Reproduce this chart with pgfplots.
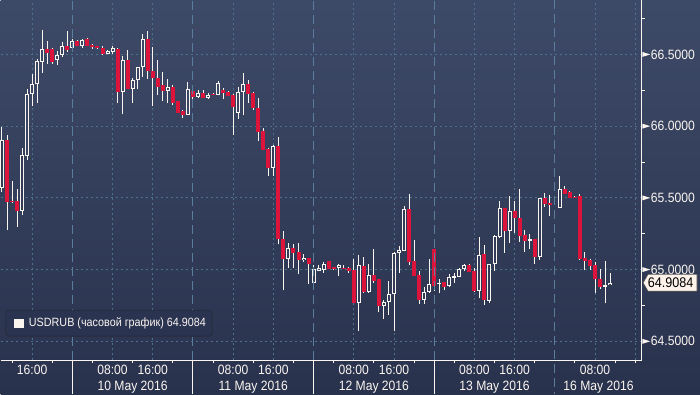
\documentclass[border=0pt]{standalone}
\usepackage{pgfplots}
\pgfplotsset{compat=1.18}
\usepackage{fontspec}
\setmainfont{Liberation Sans}[FakeStretch=0.9]
\definecolor{bgtop}{HTML}{3D4A67}
\definecolor{bgbot}{HTML}{29324D}
\definecolor{candlered}{HTML}{DC143C}
\definecolor{candlewhite}{HTML}{FBF5F0}
\definecolor{gridc}{HTML}{4F6F8F}
\definecolor{dayc}{HTML}{5A7D9E}
\definecolor{innertop}{HTML}{3A4764}
\definecolor{innerbot}{HTML}{323C58}
\definecolor{tagfill}{HTML}{FDF3EA}
\definecolor{legfill}{HTML}{2A3350}

\newcommand{\lblfont}{\fontsize{13.5}{16}\selectfont}
\pgfplotsset{seg/.style={mark=none, unbounded coords=jump, forget plot}}

\begin{document}
\begin{tikzpicture}
\shade[top color=bgtop, bottom color=bgbot] (0,0) rectangle (700pt,394pt);
\begin{axis}[
  at={(0pt,34pt)}, anchor=south west,
  scale only axis, width=641.7pt, height=360pt,
  xmin=9.75, xmax=137.3, ymin=64.369, ymax=66.876,
  clip=false,
  axis x line*=bottom, axis y line*=right,
  axis line style={candlewhite, line width=1pt},
  tick align=outside,
  major tick length=3pt, minor tick length=3pt,
  major tick style={draw=none},
  minor tick style={candlewhite, line width=1pt},
  xtick={16,32,40,56,64,80,88,104,112,128,136},
  xticklabels={16:00,08:00,16:00,08:00,16:00,08:00,16:00,08:00,16:00,08:00,},
  minor xtick={12,20,28,36,44,52,60,68,76,84,92,100,108,116,124,132,136},
  ytick={64.5,65,65.5,66,66.5},
  minor ytick={64.75,65.25,65.75,66.25,66.75},
  xmajorgrids, ymajorgrids,
  major grid style={gridc, dash pattern=on 2pt off 3pt, line width=1pt},
  xticklabel style={font=\lblfont, text=candlewhite, anchor=north, inner sep=0pt, yshift=-2pt},
  yticklabel style={font=\lblfont, text=candlewhite, anchor=west, inner sep=0pt, xshift=6pt,
    /pgf/number format/fixed, /pgf/number format/fixed zerofill,
    /pgf/number format/precision=4, /pgf/number format/assume math mode=true},
]
% wicks (low, high) for each hourly candle
\addplot[seg, candlewhite, line width=1pt] coordinates {
(10,65.541)(10,65.994)(10,nan) (11,65.274)(11,65.936)(11,nan) (12,65.462)(12,65.616)(12,nan)
(13,65.297)(13,65.565)(13,nan) (14,65.379)(14,65.850)(14,nan) (15,65.762)(15,66.261)(15,nan)
(16,66.140)(16,66.366)(16,nan) (17,66.161)(17,66.470)(17,nan) (18,66.370)(18,66.667)(18,nan)
(19,66.435)(19,66.593)(19,nan) (20,66.435)(20,66.547)(20,nan) (21,66.423)(21,66.521)(21,nan)
(22,66.481)(22,66.586)(22,nan) (23,66.516)(23,66.660)(23,nan) (24,66.535)(24,66.609)(24,nan)
(25,66.556)(25,66.604)(25,nan) (26,66.544)(26,66.609)(26,nan) (27,66.556)(27,66.614)(27,nan)
(28,66.540)(28,66.575)(28,nan) (29,66.535)(29,66.558)(29,nan) (30,66.498)(30,66.556)(30,nan)
(31,66.500)(31,66.533)(31,nan) (32,66.500)(32,66.558)(32,nan) (33,66.161)(33,66.547)(33,nan)
(34,66.082)(34,66.486)(34,nan) (35,66.256)(35,66.528)(35,nan) (36,66.161)(36,66.338)(36,nan)
(37,66.256)(37,66.412)(37,nan) (38,66.342)(38,66.644)(38,nan) (39,66.331)(39,66.660)(39,nan)
(40,66.140)(40,66.551)(40,nan) (41,66.214)(41,66.458)(41,nan) (42,66.175)(42,66.377)(42,nan)
(43,66.161)(43,66.331)(43,nan) (44,66.145)(44,66.284)(44,nan) (45,66.094)(45,66.173)(45,nan)
(46,66.056)(46,66.110)(46,nan) (47,66.080)(47,66.307)(47,nan) (48,66.145)(48,66.249)(48,nan)
(49,66.196)(49,66.249)(49,nan) (50,66.196)(50,66.249)(50,nan) (51,66.191)(51,66.233)(51,nan)
(52,66.214)(52,66.230)(52,nan) (53,66.214)(53,66.312)(53,nan) (54,66.191)(54,66.265)(54,nan)
(55,66.208)(55,66.244)(55,nan) (56,65.936)(56,66.226)(56,nan) (57,66.052)(57,66.272)(57,nan)
(58,66.075)(58,66.373)(58,nan) (59,66.161)(59,66.319)(59,nan) (60,66.115)(60,66.237)(60,nan)
(61,65.896)(61,66.196)(61,nan) (62,65.836)(62,65.987)(62,nan) (63,65.653)(63,65.850)(63,nan)
(64,65.653)(64,65.866)(64,nan) (65,65.175)(65,65.924)(65,nan) (66,64.857)(66,65.269)(66,nan)
(67,65.010)(67,65.182)(67,nan) (68,65.008)(68,65.177)(68,nan) (69,64.968)(69,65.186)(69,nan)
(70,65.054)(70,65.107)(70,nan) (71,64.900)(71,65.084)(71,nan) (72,64.898)(72,65.031)(72,nan)
(73,64.989)(73,65.029)(73,nan) (74,64.977)(74,65.054)(74,nan) (75,65.003)(75,65.059)(75,nan)
(76,64.996)(76,65.017)(76,nan) (77,64.954)(77,65.038)(77,nan) (78,65.003)(78,65.031)(78,nan)
(79,64.975)(79,65.019)(79,nan) (80,64.764)(80,65.077)(80,nan) (81,64.573)(81,65.100)(81,nan)
(82,64.838)(82,65.088)(82,nan) (83,64.838)(83,65.042)(83,nan) (84,64.907)(84,65.142)(84,nan)
(85,64.701)(85,64.931)(85,nan) (86,64.659)(86,64.787)(86,nan) (87,64.682)(87,64.919)(87,nan)
(88,64.573)(88,65.123)(88,nan) (89,64.973)(89,65.163)(89,nan) (90,65.128)(90,65.442)(90,nan)
(91,65.031)(91,65.525)(91,nan) (92,64.956)(92,65.205)(92,nan) (93,64.759)(93,64.991)(93,nan)
(94,64.759)(94,64.880)(94,nan) (95,64.834)(95,65.077)(95,nan) (96,64.852)(96,65.142)(96,nan)
(97,64.834)(97,64.931)(97,nan) (98,64.857)(98,64.914)(98,nan) (99,64.880)(99,64.966)(99,nan)
(100,64.907)(100,64.973)(100,nan) (101,64.945)(101,65.012)(101,nan) (102,64.991)(102,65.042)(102,nan)
(103,64.984)(103,65.038)(103,nan) (104,64.845)(104,65.008)(104,nan) (105,64.799)(105,65.228)(105,nan)
(106,64.752)(106,65.170)(106,nan) (107,64.768)(107,65.042)(107,nan) (108,64.991)(108,65.240)(108,nan)
(109,65.217)(109,65.476)(109,nan) (110,65.116)(110,65.432)(110,nan) (111,65.186)(111,65.511)(111,nan)
(112,65.256)(112,65.476)(112,nan) (113,65.193)(113,65.565)(113,nan) (114,65.123)(114,65.274)(114,nan)
(115,65.147)(115,65.247)(115,nan) (116,65.042)(116,65.210)(116,nan) (117,65.070)(117,65.502)(117,nan)
(118,65.437)(118,65.537)(118,nan) (119,65.374)(119,65.518)(119,nan) (121,65.432)(121,65.650)(121,nan)
(122,65.525)(122,65.581)(122,nan) (123,65.500)(123,65.546)(123,nan) (124,65.500)(124,65.511)(124,nan)
(125,65.070)(125,65.525)(125,nan) (126,64.996)(126,65.123)(126,nan) (127,64.996)(127,65.077)(127,nan)
(128,64.838)(128,65.054)(128,nan) (129,64.864)(129,65.003)(129,nan) (130,64.764)(130,65.061)(130,nan)
(131,64.891)(131,64.973)(131,nan)
};
% falling candles: body from close to open
\addplot[seg, candlered, line width=4pt] coordinates {
(11,65.471)(11,65.906)(11,nan) (12,65.471)(12,65.478)(12,nan) (13,65.409)(13,65.476)(13,nan)
(19,66.509)(19,66.540)(19,nan) (20,66.446)(20,66.535)(20,nan) (23,66.528)(23,66.556)(23,nan)
(25,66.558)(25,66.593)(25,nan) (27,66.558)(27,66.609)(27,nan) (28,66.551)(28,66.565)(28,nan)
(29,66.544)(29,66.556)(29,nan) (30,66.500)(30,66.547)(30,nan) (33,66.237)(33,66.535)(33,nan)
(35,66.261)(35,66.458)(35,nan) (39,66.384)(39,66.609)(39,nan) (40,66.335)(40,66.384)(40,nan)
(41,66.272)(41,66.338)(41,nan) (42,66.244)(42,66.284)(42,nan) (44,66.164)(44,66.272)(44,nan)
(45,66.094)(45,66.173)(45,nan) (46,66.075)(46,66.103)(46,nan) (48,66.203)(48,66.242)(48,nan)
(50,66.196)(50,66.233)(50,nan) (52,66.219)(52,66.226)(52,nan) (54,66.230)(54,66.249)(54,nan)
(55,66.208)(55,66.237)(55,nan) (56,66.133)(56,66.214)(56,nan) (59,66.226)(59,66.296)(59,nan)
(60,66.126)(60,66.230)(60,nan) (61,65.959)(61,66.129)(61,nan) (62,65.836)(62,65.964)(62,nan)
(63,65.711)(63,65.838)(63,nan) (65,65.210)(65,65.859)(65,nan) (66,65.075)(66,65.210)(66,nan)
(68,65.116)(68,65.154)(68,nan) (69,65.065)(69,65.123)(69,nan) (71,65.038)(71,65.084)(71,nan)
(75,65.003)(75,65.059)(75,nan) (76,65.003)(76,65.015)(76,nan) (78,65.005)(78,65.012)(78,nan)
(79,64.989)(79,65.012)(79,nan) (80,64.764)(80,64.996)(80,nan) (82,64.845)(82,65.024)(82,nan)
(84,64.919)(84,64.961)(84,nan) (85,64.747)(85,64.931)(85,nan) (91,65.054)(91,65.425)(91,nan)
(92,64.956)(92,65.059)(92,nan) (93,64.787)(93,64.961)(93,nan) (96,64.887)(96,65.142)(96,nan)
(98,64.880)(98,64.914)(98,nan) (103,64.984)(103,65.031)(103,nan) (104,64.850)(104,64.989)(104,nan)
(106,64.787)(106,65.112)(106,nan) (110,65.269)(110,65.432)(110,nan) (112,65.360)(112,65.407)(112,nan)
(113,65.235)(113,65.363)(113,nan) (114,65.200)(114,65.240)(114,nan) (116,65.088)(116,65.210)(116,nan)
(118,65.460)(118,65.502)(118,nan) (119,65.453)(119,65.465)(119,nan) (122,65.530)(122,65.565)(122,nan)
(123,65.502)(123,65.541)(123,nan) (124,65.502)(124,65.509)(124,nan) (125,65.077)(125,65.511)(125,nan)
(126,65.061)(126,65.081)(126,nan) (127,65.026)(127,65.070)(127,nan) (128,64.931)(128,65.031)(128,nan)
(129,64.880)(129,64.933)(129,nan)
};
% rising candles: body from open to close (outline)
\addplot[seg, candlewhite, line width=4pt] coordinates {
(10,65.569)(10,65.906)(10,nan) (14,65.409)(14,65.797)(14,nan) (15,65.790)(15,66.221)(15,nan)
(16,66.221)(16,66.296)(16,nan) (17,66.291)(17,66.453)(17,nan) (18,66.446)(18,66.540)(18,nan)
(21,66.463)(21,66.498)(21,nan) (22,66.498)(22,66.556)(22,nan) (24,66.544)(24,66.591)(24,nan)
(26,66.558)(26,66.602)(26,nan) (31,66.505)(31,66.523)(31,nan) (32,66.516)(32,66.544)(32,nan)
(34,66.237)(34,66.458)(34,nan) (36,66.261)(36,66.319)(36,nan) (37,66.319)(37,66.412)(37,nan)
(38,66.412)(38,66.609)(38,nan) (43,66.244)(43,66.272)(43,nan) (47,66.080)(47,66.261)(47,nan)
(49,66.203)(49,66.233)(49,nan) (51,66.196)(51,66.219)(51,nan) (53,66.219)(53,66.303)(53,nan)
(57,66.094)(57,66.237)(57,nan) (58,66.237)(58,66.296)(58,nan) (64,65.711)(64,65.859)(64,nan)
(67,65.075)(67,65.154)(67,nan) (70,65.065)(70,65.084)(70,nan) (72,64.910)(72,65.003)(72,nan)
(73,64.991)(73,65.012)(73,nan) (74,64.996)(74,65.042)(74,nan) (77,65.008)(77,65.031)(77,nan)
(81,64.764)(81,65.031)(81,nan) (83,64.845)(83,64.961)(83,nan) (86,64.747)(86,64.771)(86,nan)
(87,64.771)(87,64.827)(87,nan) (88,64.827)(88,65.119)(88,nan) (89,65.116)(89,65.135)(89,nan)
(90,65.128)(90,65.425)(90,nan) (94,64.787)(94,64.841)(94,nan) (95,64.841)(95,64.903)(95,nan)
(97,64.903)(97,64.910)(97,nan) (99,64.884)(99,64.949)(99,nan) (100,64.942)(100,64.956)(100,nan)
(101,64.949)(101,65.003)(101,nan) (102,65.001)(102,65.031)(102,nan) (105,64.852)(105,65.105)(105,nan)
(107,64.782)(107,65.036)(107,nan) (108,65.036)(108,65.233)(108,nan) (109,65.228)(109,65.432)(109,nan)
(111,65.269)(111,65.407)(111,nan) (115,65.198)(115,65.210)(115,nan) (117,65.088)(117,65.502)(117,nan)
(121,65.432)(121,65.565)(121,nan) (130,64.880)(130,64.891)(130,nan) (131,64.891)(131,64.908)(131,nan)
};
% rising candles: hollow inside (upper background band)
\addplot[seg, innertop, line width=2pt] coordinates {
(15,65.797)(15,66.214)(15,nan) (16,66.228)(16,66.289)(16,nan) (17,66.298)(17,66.446)(17,nan)
(18,66.453)(18,66.533)(18,nan) (21,66.470)(21,66.491)(21,nan) (22,66.505)(22,66.549)(22,nan)
(24,66.551)(24,66.584)(24,nan) (26,66.565)(26,66.595)(26,nan) (31,66.512)(31,66.516)(31,nan)
(32,66.523)(32,66.537)(32,nan) (34,66.244)(34,66.451)(34,nan) (36,66.268)(36,66.312)(36,nan)
(37,66.326)(37,66.405)(37,nan) (38,66.419)(38,66.602)(38,nan) (43,66.251)(43,66.265)(43,nan)
(47,66.087)(47,66.254)(47,nan) (49,66.210)(49,66.226)(49,nan) (51,66.203)(51,66.212)(51,nan)
(53,66.226)(53,66.296)(53,nan) (57,66.101)(57,66.230)(57,nan) (58,66.244)(58,66.289)(58,nan)
};
% rising candles: hollow inside (lower background band)
\addplot[seg, innerbot, line width=2pt] coordinates {
(10,65.576)(10,65.899)(10,nan) (14,65.416)(14,65.790)(14,nan) (64,65.718)(64,65.852)(64,nan)
(67,65.082)(67,65.147)(67,nan) (70,65.072)(70,65.077)(70,nan) (72,64.917)(72,64.996)(72,nan)
(73,64.998)(73,65.005)(73,nan) (74,65.003)(74,65.035)(74,nan) (77,65.015)(77,65.024)(77,nan)
(81,64.771)(81,65.024)(81,nan) (83,64.852)(83,64.954)(83,nan) (86,64.754)(86,64.764)(86,nan)
(87,64.778)(87,64.820)(87,nan) (88,64.834)(88,65.112)(88,nan) (89,65.123)(89,65.128)(89,nan)
(90,65.135)(90,65.418)(90,nan) (94,64.794)(94,64.834)(94,nan) (95,64.848)(95,64.896)(95,nan)
(99,64.891)(99,64.942)(99,nan) (101,64.956)(101,64.996)(101,nan) (102,65.008)(102,65.024)(102,nan)
(105,64.859)(105,65.098)(105,nan) (107,64.789)(107,65.029)(107,nan) (108,65.043)(108,65.226)(108,nan)
(109,65.235)(109,65.425)(109,nan) (111,65.276)(111,65.400)(111,nan) (117,65.095)(117,65.495)(117,nan)
(121,65.439)(121,65.558)(121,nan) (131,64.898)(131,64.901)(131,nan)
};
% day separators
\pgfplotsinvokeforeach{24,48,72,96}{
  \draw[dayc, dash pattern=on 9pt off 5pt, line width=1pt] (axis cs:#1,64.369) -- (axis cs:#1,66.876);
  \draw[candlewhite, line width=1pt] (axis cs:#1,64.369) -- ++(0pt,-34pt);
}
\draw[dayc, dash pattern=on 9pt off 5pt, line width=1pt] (axis cs:120,66.876) -- (axis cs:120,64.369) -- ++(0pt,-34pt);
% y tick markers
\pgfplotsinvokeforeach{64.5,65,65.5,66,66.5}{
  \fill[candlewhite] (axis cs:137.3,#1) ++(0.5pt,-2.5pt) -- ++(8pt,2.5pt) -- ++(-8pt,2.5pt) -- cycle;
}
% date labels
\node[anchor=north, inner sep=0pt, font=\lblfont, text=candlewhite] at (axis cs:36,64.369) [yshift=-21pt] {10 May 2016};
\node[anchor=north, inner sep=0pt, font=\lblfont, text=candlewhite] at (axis cs:60,64.369) [yshift=-21pt] {11 May 2016};
\node[anchor=north, inner sep=0pt, font=\lblfont, text=candlewhite] at (axis cs:84,64.369) [yshift=-21pt] {12 May 2016};
\node[anchor=north, inner sep=0pt, font=\lblfont, text=candlewhite] at (axis cs:108,64.369) [yshift=-21pt] {13 May 2016};
\node[anchor=north, inner sep=0pt, font=\lblfont, text=candlewhite] at (axis cs:128.7,64.369) [yshift=-21pt] {16 May 2016};
% last price tag
\filldraw[fill=tagfill, draw=black!70, line width=0.6pt] (axis cs:137.3,64.9084) ++(1.3pt,0pt) -- ++(5pt,8.5pt) -- ++(49pt,0pt) -- ++(0pt,-17pt) -- ++(-49pt,0pt) -- cycle;
\node[anchor=west, inner sep=0pt, font=\fontsize{14}{16}\selectfont, text=black] at (axis cs:137.3,64.9084) [xshift=6pt] {64.9084};
\end{axis}
% legend box
\draw[fill=legfill, draw=black!85, rounded corners=3pt] (5pt,58pt) rectangle (212pt,84pt);
\fill[candlewhite] (13pt,66.5pt) rectangle (23pt,75.5pt);
\node[anchor=west, inner sep=0pt, font=\fontsize{12}{14}\selectfont, text=candlewhite] at (28pt,71pt) {USDRUB (часовой график) 64.9084};
\end{tikzpicture}
\end{document}
